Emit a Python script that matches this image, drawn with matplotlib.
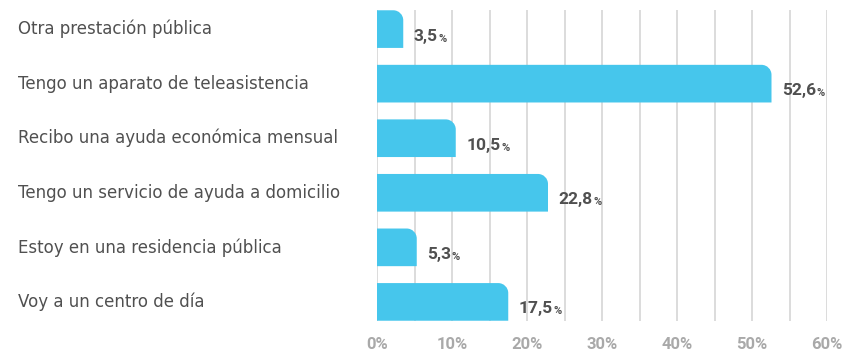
import matplotlib
matplotlib.use("Agg")
import matplotlib.pyplot as plt
from matplotlib.path import Path
from matplotlib.patches import PathPatch
from matplotlib.transforms import IdentityTransform

categories = [
    "Otra prestación pública",
    "Tengo un aparato de teleasistencia",
    "Recibo una ayuda económica mensual",
    "Tengo un servicio de ayuda a domicilio",
    "Estoy en una residencia pública",
    "Voy a un centro de día",
]
values = [3.5, 52.6, 10.5, 22.8, 5.3, 17.5]
value_labels = ["3,5", "52,6", "10,5", "22,8", "5,3", "17,5"]
xticks = [0, 10, 20, 30, 40, 50, 60]
xtick_labels = ["0%", "10%", "20%", "30%", "40%", "50%", "60%"]

BAR_COLOR = "#46c6ec"
TEXT_COLOR = "#505050"
TICK_COLOR = "#a9a9a9"
GRID_COLOR = "#dcdcdc"
NUM_FONT = ["Roboto", "DejaVu Sans"]
LABEL_FONT = ["DejaVu Sans"]

W, H, DPI = 843, 353, 100
fig = plt.figure(figsize=(W / DPI, H / DPI), dpi=DPI)
ax = fig.add_axes([377 / W, 32 / H, 450 / W, 311 / H])

n = len(categories)
ax.set_xlim(0, 60)
ax.set_ylim(n - 1 + 0.35, -0.35)
for s in ax.spines.values():
    s.set_visible(False)
ax.set_yticks([])
ax.set_xticks(xticks)
ax.set_xticklabels(xtick_labels, family=NUM_FONT, fontsize=12,
                   fontweight="bold", color=TICK_COLOR)
ax.tick_params(axis="x", length=0, pad=11.5)

for g in range(0, 61, 5):
    ax.axvline(g, color=GRID_COLOR, lw=1.4, zorder=0)

bar_h = 0.69
radius = 10.0


def rounded_bar(y, v):
    # Bar outline in pixel space with a rounded top-right corner
    (x0, y0), (x1, y1) = ax.transData.transform([(0, y + bar_h / 2), (v, y - bar_h / 2)])
    r = min(radius, (x1 - x0) / 2, (y1 - y0) / 2)
    k = 0.5523 * r
    verts = [
        (x0, y0), (x1, y0), (x1, y1 - r),
        (x1, y1 - r + k), (x1 - r + k, y1), (x1 - r, y1),
        (x0, y1), (x0, y0),
    ]
    codes = [Path.MOVETO, Path.LINETO, Path.LINETO,
             Path.CURVE4, Path.CURVE4, Path.CURVE4,
             Path.LINETO, Path.CLOSEPOLY]
    return PathPatch(Path(verts, codes), facecolor=BAR_COLOR, edgecolor="none",
                     transform=IdentityTransform(), zorder=2)


for i, (v, lab) in enumerate(zip(values, value_labels)):
    ax.add_artist(rounded_bar(i, v))
    t = ax.annotate(lab, xy=(v, i), xytext=(7.5, -4), textcoords="offset points",
                    ha="left", va="center_baseline", family=NUM_FONT, fontsize=12.5,
                    fontweight="bold", color=TEXT_COLOR)
    ax.annotate("%", xy=(1, 0), xycoords=t, xytext=(0.6, 0), textcoords="offset points",
                ha="left", va="bottom", family=NUM_FONT, fontsize=8,
                fontweight="bold", color=TEXT_COLOR)

for i, c in enumerate(categories):
    y_disp = ax.transData.transform((0, i))[1]
    fig.text(18 / W, y_disp / H, c, ha="left", va="center", family=LABEL_FONT,
             fontsize=12, color=TEXT_COLOR)

fig.savefig("out.png", dpi=DPI)
